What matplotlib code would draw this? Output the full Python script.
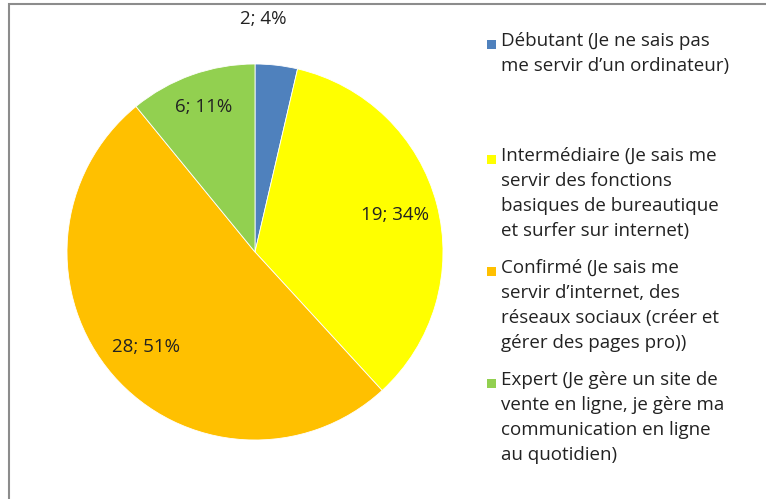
import numpy as np
import matplotlib
matplotlib.use("Agg")
import matplotlib.pyplot as plt
from matplotlib.patches import Rectangle

plt.rcParams['font.family'] = ['Open Sans', 'DejaVu Sans']

# data
categories = [
    "Débutant (Je ne sais pas\nme servir d\u2019un ordinateur)",
    "Intermédiaire (Je sais me\nservir des fonctions\nbasiques de bureautique\net surfer sur internet)",
    "Confirmé (Je sais me\nservir d\u2019internet, des\nréseaux sociaux (créer et\ngérer des pages pro))",
    "Expert (Je gère un site de\nvente en ligne, je gère ma\ncommunication en ligne\nau quotidien)",
]
values = [2, 19, 28, 6]
percents = [4, 34, 51, 11]
colors = ['#4F81BD', '#FFFF00', '#FFC000', '#92D050']

W, H = 766, 499
fig = plt.figure(figsize=(W / 100, H / 100), dpi=100)

def fx(px):
    return px / W

def fy(py):
    return 1 - py / H

# outer frame (only top/left visible, rest cut off)
fig.patches.append(Rectangle((fx(9), fy(H + 20)), 1.2, fy(4) - fy(H + 20),
                             transform=fig.transFigure, fill=False,
                             edgecolor='#8c8c8c', linewidth=1.5))

cx, cy, r = 255, 252, 188
ax = fig.add_axes([fx(cx - r), fy(cy + r), 2 * r / W, 2 * r / H])
wedges, _ = ax.pie(values, colors=colors, startangle=90, counterclock=False,
                   wedgeprops=dict(edgecolor='white', linewidth=0.6))
ax.set_xlim(-1, 1)
ax.set_ylim(-1, 1)
ax.set_aspect('auto')

fs = 13.5
label_r = [1.25, 0.77, 0.77, 0.82]
label_dx = [-0.1, 0, 0, 0]
for w, v, p, lr, dx in zip(wedges, values, percents, label_r, label_dx):
    mid = np.deg2rad((w.theta1 + w.theta2) / 2)
    ax.text(lr * np.cos(mid) + dx, lr * np.sin(mid), f"{v}; {p}%",
            ha='center', va='center', fontsize=fs, color='#222222')

# legend built manually (Excel-style equal slots)
leg_top = [45, 160, 272, 384]
for cat, col, ty in zip(categories, colors, leg_top):
    fig.patches.append(Rectangle((fx(487), fy(ty + 4)), fx(9), fy(ty - 5) - fy(ty + 4),
                                 transform=fig.transFigure, facecolor=col,
                                 edgecolor='none'))
    fig.text(fx(501), fy(ty - 13), cat, ha='left', va='top', fontsize=fs,
             color='#222222', linespacing=1.5)

fig.savefig("out.png", dpi=100, facecolor='white')
